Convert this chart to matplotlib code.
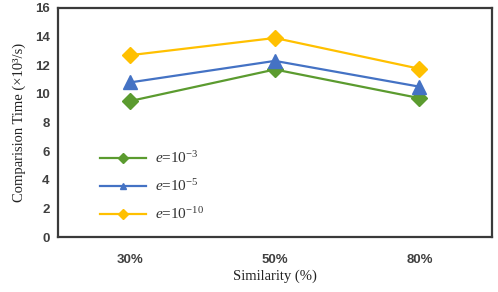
import matplotlib
matplotlib.use("Agg")
import matplotlib.pyplot as plt

categories = ["30%", "50%", "80%"]
e3 = [9.5, 11.7, 9.7]
e5 = [10.8, 12.3, 10.5]
e10 = [12.7, 13.9, 11.75]
labels = ["$e$=10$^{-3}$", "$e$=10$^{-5}$", "$e$=10$^{-10}$"]
yticks = [0, 2, 4, 6, 8, 10, 12, 14, 16]

plt.rcParams['mathtext.fontset'] = 'custom'
plt.rcParams['mathtext.rm'] = 'Liberation Serif'
plt.rcParams['mathtext.it'] = 'Liberation Serif:italic'

fig = plt.figure(figsize=(4.98, 2.92), dpi=100)
ax = fig.add_axes([0.1165, 0.188, 0.871, 0.785])
x = range(len(categories))
ax.plot(x, e3, color='#5B9B2F', marker='D', markersize=8, linewidth=1.6, label=labels[0])
ax.plot(x, e5, color='#4472C4', marker='^', markersize=10, linewidth=1.6, label=labels[1])
ax.plot(x, e10, color='#FFC000', marker='D', markersize=8, linewidth=1.6, label=labels[2])

ax.set_xlim(-0.5, 2.5)
ax.set_ylim(0, 16)
ax.set_yticks(yticks)
ax.set_xticks(list(x))
ax.set_xticklabels(categories)
ax.tick_params(length=0, labelsize=9.5, colors='#404040', pad=6)
for lab in ax.get_xticklabels() + ax.get_yticklabels():
    lab.set_family('Liberation Sans')
    lab.set_fontweight('bold')
ax.tick_params(axis='x', pad=12)
for s in ax.spines.values():
    s.set_color('#3a3a3a')
    s.set_linewidth(1.6)

ax.set_ylabel("Comparision Time (×10³/s)", family='Liberation Serif', fontsize=10.5, color='#222222', labelpad=6)
ax.set_xlabel("Similarity (%)", family='Liberation Serif', fontsize=10.5, color='#222222', labelpad=3)

leg = ax.legend(loc='lower left', bbox_to_anchor=(0.065, 0.005), frameon=False,
                prop={'family': 'Liberation Serif', 'size': 11},
                handlelength=3.0, labelspacing=0.8, handletextpad=0.6)
for l in leg.get_lines():
    l.set_markersize(5)
for t in leg.get_texts():
    t.set_color('#333333')

fig.savefig("out.png", dpi=100)
